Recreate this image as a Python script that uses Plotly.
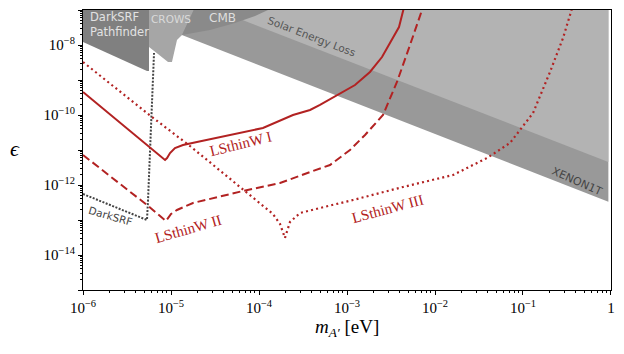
import plotly.graph_objects as go

# ---------------- data (log10 values) ----------------
# LSthinW I (solid)
lsw1_logm = [-6.0, -5.068, -5.045, -5.011, -4.955, -4.864, -4.705, -4.330, -3.955, -3.614, -3.420, -3.307, -3.114, -2.909, -2.739, -2.602, -2.409, -2.364, -2.34]
lsw1_logeps = [-9.343, -11.286, -11.229, -11.086, -10.943, -10.857, -10.771, -10.571, -10.371, -10.0, -9.857, -9.714, -9.429, -9.143, -8.771, -8.343, -7.486, -7.057, -6.8]

# LSthinW II (dashed)
lsw2_logm = [-6.0, -5.273, -5.057, -5.0, -4.932, -4.75, -4.182, -3.761, -3.420, -3.193, -2.966, -2.795, -2.591, -2.432, -2.284, -2.148, -2.12]
lsw2_logeps = [-11.143, -12.571, -13.029, -12.829, -12.714, -12.514, -12.171, -11.943, -11.629, -11.429, -11.0, -10.571, -10.0, -9.057, -8.0, -7.057, -6.8]

# LSthinW III (dotted)
lsw3_logm = [-6.0, -5.261, -4.784, -4.182, -3.841, -3.761, -3.705, -3.648, -3.534, -3.307, -2.932, -2.364, -1.795, -1.409, -1.148, -0.886, -0.693, -0.545, -0.455, -0.43]
lsw3_logeps = [-8.486, -9.971, -10.886, -12.143, -12.829, -13.114, -13.514, -13.057, -12.8, -12.657, -12.429, -12.057, -11.714, -11.229, -10.8, -9.943, -8.771, -7.8, -7.086, -6.85]

# DarkSRF (grey dotted)
dsrf_logm = [-6.0, -5.273, -5.261, -5.216, -5.193]
dsrf_logeps = [-12.257, -13.0, -12.429, -9.571, -8.229]

# Shaded regions (polygons)
pathfinder_logm = [-6.0, -5.273, -5.25, -5.25, -6.0]
pathfinder_logeps = [-7.914, -8.743, -8.743, -6.8, -6.8]

crows_logm = [-5.25, -5.25, -5.148, -5.034, -4.989, -4.955, -4.932, -4.875, -4.705]
crows_logeps = [-6.8, -8.057, -8.257, -8.486, -8.486, -8.143, -7.857, -7.714, -6.8]

cmb_logm = [-4.875, -4.557, -4.273, -4.045, -3.898, -3.85, -4.705]
cmb_logeps = [-7.714, -7.571, -7.371, -7.171, -7.0, -6.8, -6.8]

xenon_logm = [-5.0, -0.03, -0.03, -5.0]
xenon_logeps = [-7.59, -12.48, -6.8, -6.8]

solar_logm = [-4.48, -0.03, -0.03, -4.48]
solar_logeps = [-7.0, -11.34, -6.8, -6.8]

x_tickvals = [-6, -5, -4, -3, -2, -1, 0]
x_ticktext = ["10<sup>−6</sup>", "10<sup>−5</sup>", "10<sup>−4</sup>", "10<sup>−3</sup>",
              "10<sup>−2</sup>", "10<sup>−1</sup>", "1"]
y_tickvals = [-15, -14, -13, -12, -11, -10, -9, -8, -7]
y_ticktext = ["", "10<sup>−14</sup>", "", "10<sup>−12</sup>", "", "10<sup>−10</sup>", "", "10<sup>−8</sup>", ""]

RED = "#b22222"

def p(v):
    return [10 ** a for a in v]

fig = go.Figure()

def region(lm, le, color):
    fig.add_trace(go.Scatter(x=p(lm), y=p(le), fill="toself", fillcolor=color,
                             mode="lines", line=dict(width=0, color=color),
                             hoverinfo="skip", showlegend=False))

region(xenon_logm, xenon_logeps, "#999999")
region(solar_logm, solar_logeps, "#b3b3b3")
region(crows_logm, crows_logeps, "#a6a6a6")
region(cmb_logm, cmb_logeps, "#8a8a8a")
region(pathfinder_logm, pathfinder_logeps, "#808080")

fig.add_trace(go.Scatter(x=p(dsrf_logm), y=p(dsrf_logeps), mode="lines",
                         line=dict(color="#444444", width=2, dash="2px,1.5px"), showlegend=False))
fig.add_trace(go.Scatter(x=p(lsw1_logm), y=p(lsw1_logeps), mode="lines",
                         line=dict(color=RED, width=2), showlegend=False))
fig.add_trace(go.Scatter(x=p(lsw2_logm), y=p(lsw2_logeps), mode="lines",
                         line=dict(color=RED, width=2, dash="8px,4px"), showlegend=False))
fig.add_trace(go.Scatter(x=p(lsw3_logm), y=p(lsw3_logeps), mode="lines",
                         line=dict(color=RED, width=2.2, dash="2px,3.2px"), showlegend=False))

SANS = "DejaVu Sans"
SERIF = "Liberation Serif"

def label(x, y, text, color, size, angle=0, font=SANS, xanchor="center"):
    fig.add_annotation(x=x, y=y, xref="x", yref="y", text=text, showarrow=False,
                       textangle=angle, xanchor=xanchor, yanchor="middle", align="left",
                       font=dict(family=font, size=size, color=color))

label(-5.943, -7.4, "DarkSRF<br>Pathfinder", "#e2e2e2", 11.5, 0, SANS, "left")
label(-5.0, -7.257, "CROWS", "#dadada", 10.5)
label(-4.42, -7.229, "CMB", "#dedede", 12)
label(-3.409, -7.75, "Solar Energy Loss", "#555555", 10.5, 21)
label(-0.386, -11.914, "XENON1T", "#444444", 11, 24)
label(-5.682, -12.886, "DarkSRF", "#444444", 10.5, 16)
label(-4.216, -10.829, "LSthinW I", RED, 15, -14, SERIF)
label(-4.807, -13.257, "LSthinW II", RED, 15, -16, SERIF)
label(-2.545, -12.686, "LSthinW III", RED, 15, -15, SERIF)

fig.add_annotation(x=-0.129, y=0.507, xref="paper", yref="paper", showarrow=False,
                   xanchor="center", yanchor="middle",
                   text="<i>ϵ</i>", font=dict(family=SERIF, size=22, color="black"))
fig.add_annotation(x=0.5, y=-0.136, xref="paper", yref="paper", showarrow=False,
                   xanchor="center", yanchor="middle",
                   text="<i>m</i><sub><i>A′</i></sub> [eV]", font=dict(family=SERIF, size=19, color="black"))

axis_common = dict(showgrid=False, zeroline=False, showline=True, linecolor="black",
                   linewidth=1.2, mirror=True, ticks="outside", ticklen=4, tickcolor="black",
                   automargin=False, ticklabeloverflow="allow",
                   tickfont=dict(family=SERIF, size=15, color="black"))

fig.update_xaxes(type="log", range=[-6.0001, 0.0001], tickmode="array",
                 tickvals=[10 ** v for v in x_tickvals], ticktext=x_ticktext,
                 minor=dict(ticks="outside", ticklen=2, tickcolor="black", dtick="D1", showgrid=False),
                 **axis_common)
fig.update_yaxes(type="log", range=[-15, -7], tickmode="array",
                 tickvals=[10 ** v for v in y_tickvals], ticktext=y_ticktext,
                 minor=dict(ticks="outside", ticklen=2, tickcolor="black", dtick="D1", showgrid=False),
                 **axis_common)

# page has an 8px body margin, so the figure is shifted; compensate in size/margins
fig.update_layout(width=616, height=346, autosize=False,
                  margin=dict(l=75, r=13, t=2, b=64, autoexpand=False),
                  plot_bgcolor="white", paper_bgcolor="white", showlegend=False)

fig.write_html("out.html")
